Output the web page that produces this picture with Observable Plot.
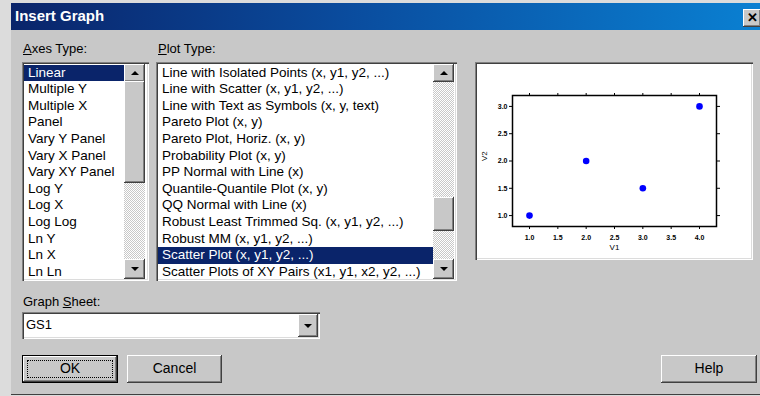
<!DOCTYPE html>
<html>
<head>
<meta charset="utf-8">
<script src="https://cdn.jsdelivr.net/npm/d3@7"></script>
<script src="https://cdn.jsdelivr.net/npm/@observablehq/plot@0.6"></script>
<style>
  html, body { margin:0; padding:0; }
  body { width:760px; height:396px; overflow:hidden; background:#dcdcdc; position:relative;
         font-family:"Liberation Sans", Arial, sans-serif; color:#000; }
  .abs { position:absolute; box-sizing:border-box; }
  #dlg { left:11px; top:3px; width:760px; height:392px; background:#c8c8c8;
         box-shadow: inset 0 -1px #404040; }
  #titlebar { left:11px; top:3px; width:749px; height:27px;
         background:linear-gradient(to right, #0a246a 0%, #0a4c9e 45%, #0a80d2 100%); }
  #title { left:15px; top:7px; font-weight:bold; font-size:15px; color:#fff; line-height:18px; }
  #close { left:743px; top:9px; width:18px; height:18px; background:#c8c8c8;
         box-shadow: inset -1px -1px #404040, inset 1px 1px #fff, inset -2px -2px #808080;
         font-weight:bold; font-size:13px; line-height:17px; text-align:center; }
  .lbl { font-size:13px; line-height:16px; }
  .sunken { background:#fff;
         box-shadow: inset 1px 1px #808080, inset 2px 2px #404040, inset -1px -1px #fff, inset -2px -2px #dcdcdc; }
  .list { overflow:hidden; }
  .row { position:absolute; left:2px; height:16.6px; line-height:16.6px; font-size:13.5px; padding-left:4px;
         white-space:nowrap; box-sizing:border-box; }
  .row.sel { background:#0a246a; color:#fff; }
  .raised { background:#c8c8c8;
         box-shadow: inset -1px -1px #404040, inset 1px 1px #fff, inset -2px -2px #808080; }
  .track { background: repeating-conic-gradient(#fff 0 25%, #c8c8c8 0 50%) 0 0/2px 2px; }
  .up::after, .down::after { content:""; position:absolute; left:50%; top:50%; width:0; height:0;
         border-left:4px solid transparent; border-right:4px solid transparent; transform:translate(-50%,-50%); }
  .up::after { border-bottom:4px solid #000; }
  .down::after { border-top:4px solid #000; }
  .btn { font-size:14px; text-align:center; }
  u { text-decoration:underline; }
</style>
</head>
<body>
<div id="dlg" class="abs"></div>
<div id="titlebar" class="abs"></div>
<div id="title" class="abs">Insert Graph</div>
<div id="close" class="abs">✕</div>

<div class="abs lbl" style="left:23px;top:41px;"><u>A</u>xes Type:</div>
<div class="abs lbl" style="left:158px;top:41px;"><u>P</u>lot Type:</div>

<div id="axesList" class="abs sunken list" style="left:22px;top:62px;width:127px;height:219px;"></div>
<div id="plotList" class="abs sunken list" style="left:156px;top:62px;width:301px;height:219px;"></div>

<div id="chart" class="abs sunken" style="left:475px;top:62px;width:278px;height:198px;"></div>

<div class="abs lbl" style="left:23px;top:294px;">Graph <u>S</u>heet:</div>
<div class="abs sunken" style="left:22px;top:312px;width:298px;height:27px;"></div>
<div id="sheetText" class="abs lbl" style="left:26px;top:317px;"></div>
<div class="abs raised down" style="left:298px;top:314px;width:20px;height:23px;"></div>

<div class="abs" style="left:22px;top:355px;width:96px;height:28px;border:1px solid #000;"></div>
<div class="abs raised btn" style="left:23px;top:356px;width:94px;height:26px;line-height:25px;">
  <div class="abs" style="left:4px;top:4px;width:86px;height:18px;border:1px dotted #000;"></div>OK</div>
<div class="abs raised btn" style="left:127px;top:355px;width:95px;height:28px;line-height:27px;">Cancel</div>
<div class="abs raised btn" style="left:661px;top:355px;width:96px;height:28px;line-height:27px;">Help</div>

<script>
// ---- data ----
const axesTypes = ["Linear","Multiple Y","Multiple X","Panel","Vary Y Panel","Vary X Panel","Vary XY Panel",
  "Log Y","Log X","Log Log","Ln Y","Ln X","Ln Ln"];
const plotTypes = ["Line with Isolated Points (x, y1, y2, ...)","Line with Scatter (x, y1, y2, ...)",
  "Line with Text as Symbols (x, y, text)","Pareto Plot (x, y)","Pareto Plot, Horiz. (x, y)",
  "Probability Plot (x, y)","PP Normal with Line (x)","Quantile-Quantile Plot (x, y)",
  "QQ Normal with Line (x)","Robust Least Trimmed Sq. (x, y1, y2, ...)","Robust MM (x, y1, y2, ...)",
  "Scatter Plot (x, y1, y2, ...)","Scatter Plots of XY Pairs (x1, y1, x2, y2, ...)"];
const selectedAxes = "Linear";
const selectedPlot = "Scatter Plot (x, y1, y2, ...)";
const graphSheet = "GS1";

const v1 = [1, 2, 3, 4];
const v2 = [1, 2, 1.5, 3];
const xTicks = [1, 1.5, 2, 2.5, 3, 3.5, 4];
const yTicks = [1, 1.5, 2, 2.5, 3];
const xLabel = "V1";
const yLabel = "V2";

// ---- dialog lists ----
function buildList(el, items, selected, rowWidth, sb) {
  items.forEach((t, i) => {
    const r = document.createElement("div");
    r.className = "row" + (t === selected ? " sel" : "");
    r.style.top = (2.5 + i * 16.6) + "px";
    r.style.width = rowWidth + "px";
    r.textContent = t;
    el.appendChild(r);
  });
  const track = document.createElement("div");
  track.className = "abs track";
  Object.assign(track.style, {left: sb.x + "px", top: "2px", width: "21px", height: (219 - 4) + "px"});
  el.appendChild(track);
  const up = document.createElement("div");
  up.className = "abs raised up";
  Object.assign(up.style, {left: sb.x + "px", top: "2px", width: "21px", height: "18px"});
  el.appendChild(up);
  const down = document.createElement("div");
  down.className = "abs raised down";
  Object.assign(down.style, {left: sb.x + "px", top: (219 - 2 - 20) + "px", width: "21px", height: "20px"});
  el.appendChild(down);
  const thumb = document.createElement("div");
  thumb.className = "abs raised";
  Object.assign(thumb.style, {left: sb.x + "px", top: sb.t0 + "px", width: "21px", height: (sb.t1 - sb.t0) + "px"});
  el.appendChild(thumb);
}
buildList(document.getElementById("axesList"), axesTypes, selectedAxes, 100, {x: 102, t0: 19, t1: 121});
buildList(document.getElementById("plotList"), plotTypes, selectedPlot, 275, {x: 277, t0: 135, t1: 169});
document.getElementById("sheetText").textContent = graphSheet;

// ---- chart ----
const pts = v1.map((x, i) => ({x, y: v2[i]}));
const fmt = d3.format(".1f");
const chart = Plot.plot({
  width: 278,
  height: 198,
  marginLeft: 37,
  marginRight: 37,
  marginTop: 33,
  marginBottom: 34,
  style: {background: "transparent", fontSize: "7px", fontFamily: "Liberation Sans, Arial, sans-serif", color: "#000"},
  x: {domain: [0.7, 4.3]},
  y: {domain: [0.8, 3.2]},
  marks: [
    Plot.frame({stroke: "#000", strokeWidth: 1.5}),
    Plot.axisX(xTicks, {tickFormat: fmt, tickSize: 3, tickPadding: 6, label: null, fontWeight: "bold"}),
    Plot.axisX(xTicks, {anchor: "top", tickSize: 3, tickFormat: () => "", label: null}),
    Plot.axisY(yTicks, {tickFormat: fmt, tickSize: 3, tickPadding: 2, label: null, fontWeight: "bold"}),
    Plot.axisY(yTicks, {anchor: "right", tickSize: 3, tickFormat: () => "", label: null}),
    Plot.dot(pts, {x: "x", y: "y", r: 3.3, fill: "#0000ff", stroke: null}),
    Plot.text([xLabel], {frameAnchor: "bottom", dy: 23, text: d => d, fontSize: 8}),
    Plot.text([yLabel], {frameAnchor: "left", dx: -28, rotate: -90, text: d => d, fontSize: 8})
  ]
});
chart.style.position = "absolute";
chart.style.left = "0px";
chart.style.top = "0px";
document.getElementById("chart").appendChild(chart);
</script>
</body>
</html>
